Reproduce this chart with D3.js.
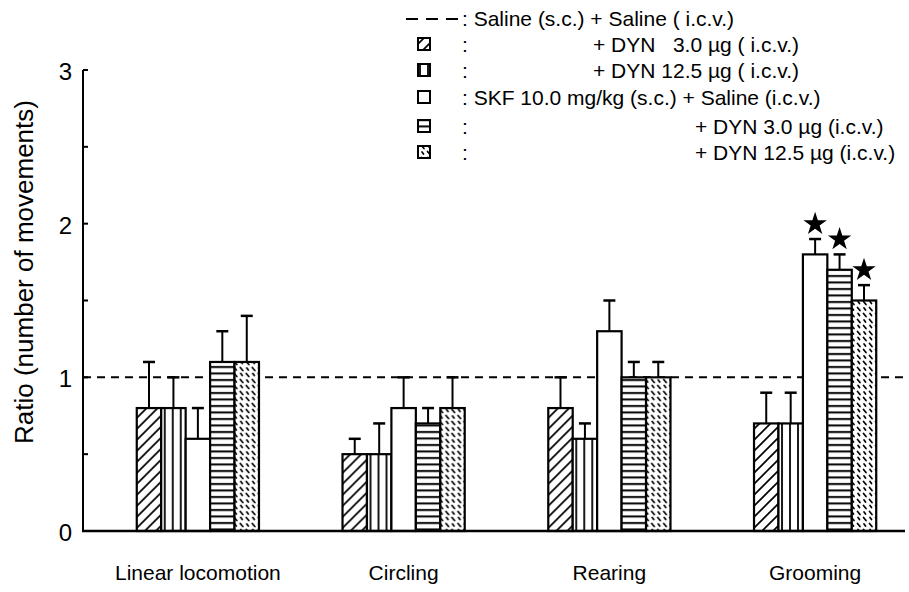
<!DOCTYPE html>
<html>
<head>
<meta charset="utf-8">
<script src="https://cdn.jsdelivr.net/npm/d3@7"></script>
<style>
  body { margin: 0; background: #fff; }
  svg { display: block; }
  text { font-family: "Liberation Sans", Arial, Helvetica, sans-serif; fill: #000; }
</style>
</head>
<body>
<svg id="chart"></svg>
<script>
// Behaviour ratios, SKF / DYN experiment

var categories = ["Linear locomotion", "Circling", "Rearing", "Grooming"];
var seriesKeys = ["salDyn3", "salDyn12", "skfSal", "skfDyn3", "skfDyn12"];

// mean ratio per category
var salDyn3 = [0.8, 0.5, 0.8, 0.7];
var salDyn12 = [0.8, 0.5, 0.6, 0.7];
var skfSal = [0.6, 0.8, 1.3, 1.8];
var skfDyn3 = [1.1, 0.7, 1.0, 1.7];
var skfDyn12 = [1.1, 0.8, 1.0, 1.5];

// upper error (s.e.m.)
var errDyn3 = [0.3, 0.1, 0.2, 0.2];
var errDyn12 = [0.2, 0.2, 0.1, 0.2];
var errSkfSal = [0.2, 0.2, 0.2, 0.1];
var errSkfDyn3 = [0.2, 0.1, 0.1, 0.1];
var errSkfDyn12 = [0.3, 0.2, 0.1, 0.1];

// significant (*) bars
var starred = [[3, "skfSal"], [3, "skfDyn3"], [3, "skfDyn12"]];

var yTicks = [0, 1, 2, 3];
var yMinorTicks = [0.5, 1.5, 2.5];
var controlLevel = 1;

var legendLabels = [
    ": Saline (s.c.) + Saline ( i.c.v.)",
    ":",
    ":",
    ": SKF 10.0 mg/kg (s.c.) + Saline (i.c.v.)",
    ":",
    ":"
];
var legendRight = [
    "",
    "+ DYN\u00a0\u00a0 3.0 \u00b5g ( i.c.v.)",
    "+ DYN 12.5 \u00b5g ( i.c.v.)",
    "",
    "+ DYN 3.0 \u00b5g (i.c.v.)",
    "+ DYN 12.5 \u00b5g (i.c.v.)"
];

var means = { salDyn3: salDyn3, salDyn12: salDyn12, skfSal: skfSal, skfDyn3: skfDyn3, skfDyn12: skfDyn12 };
var errs = { salDyn3: errDyn3, salDyn12: errDyn12, skfSal: errSkfSal, skfDyn3: errSkfDyn3, skfDyn12: errSkfDyn12 };
var fills = {
    salDyn3: "url(#hatch)",
    salDyn12: "url(#vert)",
    skfSal: "#fff",
    skfDyn3: "url(#horiz)",
    skfDyn12: "url(#dash)"
};

var width = 909, height = 592;
var svg = d3.select("#chart").attr("width", width).attr("height", height);

// patterns
var defs = svg.append("defs");
var p = defs.append("pattern").attr("id", "hatch").attr("patternUnits", "userSpaceOnUse")
    .attr("width", 11).attr("height", 11);
p.append("rect").attr("width", 11).attr("height", 11).attr("fill", "#fff");
p.append("path").attr("d", "M-3,14 L14,-3 M-3,3 L3,-3 M8,14 L14,8")
    .attr("stroke", "#000").attr("stroke-width", 1.7);

p = defs.append("pattern").attr("id", "vert").attr("patternUnits", "userSpaceOnUse")
    .attr("width", 8).attr("height", 8);
p.append("rect").attr("width", 8).attr("height", 8).attr("fill", "#fff");
p.append("line").attr("x1", 4).attr("x2", 4).attr("y1", 0).attr("y2", 8)
    .attr("stroke", "#000").attr("stroke-width", 1.8);

p = defs.append("pattern").attr("id", "horiz").attr("patternUnits", "userSpaceOnUse")
    .attr("width", 8).attr("height", 6.5);
p.append("rect").attr("width", 8).attr("height", 6.5).attr("fill", "#fff");
p.append("line").attr("x1", 0).attr("x2", 8).attr("y1", 3).attr("y2", 3)
    .attr("stroke", "#000").attr("stroke-width", 2);

p = defs.append("pattern").attr("id", "dash").attr("patternUnits", "userSpaceOnUse")
    .attr("width", 12).attr("height", 12);
p.append("rect").attr("width", 12).attr("height", 12).attr("fill", "#fff");
p.append("path").attr("d", "M1.5,1.5 L4,4.5 M7.5,7.5 L10,10.5 M8,1.5 L9.5,3.5 M2,8 L3.5,10")
    .attr("stroke", "#000").attr("stroke-width", 1.7).attr("stroke-linecap", "round");

// scales
var x0 = d3.scaleBand().domain(categories).range([95, 918])
    .paddingInner(0.406).paddingOuter(0.203);
var x1 = d3.scaleBand().domain(seriesKeys).range([0, x0.bandwidth()]);
var y = d3.scaleLinear().domain([0, 3]).range([531, 70]);
var axisX = 83, axisRight = 905;

// control level line
svg.append("line")
    .attr("x1", axisX).attr("x2", axisRight)
    .attr("y1", y(controlLevel)).attr("y2", y(controlLevel))
    .attr("stroke", "#000").attr("stroke-width", 2)
    .attr("stroke-dasharray", "8,6");

// bars
var groups = svg.selectAll("g.cat")
    .data(categories)
    .enter()
    .append("g")
    .attr("class", "cat")
    .attr("transform", function(d) {
        return "translate(" + x0(d) + ",0)";
    });

var bars = groups.selectAll("g.bar")
    .data(function(d, i) {
        return seriesKeys.map(function(k) {
            return { key: k, value: means[k][i], err: errs[k][i], cat: i };
        });
    })
    .enter()
    .append("g")
    .attr("class", "bar");

bars.append("line")
    .attr("x1", function(d) { return x1(d.key) + x1.bandwidth() / 2; })
    .attr("x2", function(d) { return x1(d.key) + x1.bandwidth() / 2; })
    .attr("y1", function(d) { return y(d.value); })
    .attr("y2", function(d) { return y(d.value + d.err); })
    .attr("stroke", "#000").attr("stroke-width", 2);
bars.append("line")
    .attr("x1", function(d) { return x1(d.key) + x1.bandwidth() / 2 - 6; })
    .attr("x2", function(d) { return x1(d.key) + x1.bandwidth() / 2 + 6; })
    .attr("y1", function(d) { return y(d.value + d.err); })
    .attr("y2", function(d) { return y(d.value + d.err); })
    .attr("stroke", "#000").attr("stroke-width", 2.5);

bars.append("rect")
    .attr("x", function(d) { return x1(d.key); })
    .attr("y", function(d) { return y(d.value); })
    .attr("width", x1.bandwidth())
    .attr("height", function(d) { return y(0) - y(d.value); })
    .attr("fill", function(d) { return fills[d.key]; })
    .attr("stroke", "#000").attr("stroke-width", 2.2);

// stars
svg.selectAll("path.star")
    .data(starred)
    .enter()
    .append("path")
    .attr("class", "star")
    .attr("d", d3.symbol().type(d3.symbolStar).size(170))
    .attr("transform", function(d) {
        var i = d[0], k = d[1];
        var cx = x0(categories[i]) + x1(k) + x1.bandwidth() / 2;
        return "translate(" + cx + "," + (y(means[k][i] + errs[k][i]) - 15) + ")";
    })
    .attr("fill", "#000");

// axes
svg.append("line")
    .attr("x1", axisX).attr("x2", axisX).attr("y1", y(3)).attr("y2", y(0))
    .attr("stroke", "#000").attr("stroke-width", 2);
svg.append("line")
    .attr("x1", axisX - 1).attr("x2", axisRight).attr("y1", y(0)).attr("y2", y(0))
    .attr("stroke", "#000").attr("stroke-width", 2.5);

svg.selectAll("line.tick")
    .data(yTicks.slice(1).concat(yMinorTicks))
    .enter()
    .append("line")
    .attr("class", "tick")
    .attr("x1", axisX).attr("x2", axisX + 5)
    .attr("y1", function(d) { return y(d); }).attr("y2", function(d) { return y(d); })
    .attr("stroke", "#000").attr("stroke-width", 2);

svg.selectAll("text.ytick")
    .data(yTicks)
    .enter()
    .append("text")
    .attr("class", "ytick")
    .attr("x", 72).attr("y", function(d) { return y(d) + 10; })
    .attr("text-anchor", "end")
    .style("font-size", "24px")
    .text(function(d) { return d; });

svg.append("text")
    .attr("transform", "translate(33,272) rotate(-90)")
    .attr("text-anchor", "middle")
    .style("font-size", "26px")
    .text("Ratio (number of movements)");

svg.selectAll("text.cat")
    .data(categories)
    .enter()
    .append("text")
    .attr("class", "cat")
    .attr("x", function(d) { return x0(d) + x0.bandwidth() / 2; })
    .attr("y", 580)
    .attr("text-anchor", "middle")
    .style("font-size", "21px")
    .text(function(d) { return d; });

// legend
var legendRows = [26, 52, 78, 105, 134, 160];
var legendKeys = ["salDyn3", "salDyn12", "skfSal", "skfDyn3", "skfDyn12"];
var leg = svg.append("g").attr("class", "legend");

leg.append("line")
    .attr("x1", 406).attr("x2", 458).attr("y1", legendRows[0] - 7).attr("y2", legendRows[0] - 7)
    .attr("stroke", "#000").attr("stroke-width", 2).attr("stroke-dasharray", "12,8");

leg.selectAll("rect")
    .data(legendKeys)
    .enter()
    .append("rect")
    .attr("x", 418)
    .attr("y", function(d, i) { return legendRows[i + 1] - 14; })
    .attr("width", 12).attr("height", 12)
    .attr("fill", function(d) { return fills[d]; })
    .attr("stroke", "#000").attr("stroke-width", 2);

leg.selectAll("text.l")
    .data(legendLabels)
    .enter()
    .append("text")
    .attr("class", "l")
    .attr("x", 462)
    .attr("y", function(d, i) { return legendRows[i]; })
    .style("font-size", "21px")
    .text(function(d) { return d; });

leg.selectAll("text.r")
    .data(legendRight)
    .enter()
    .append("text")
    .attr("class", "r")
    .attr("x", function(d, i) { return i < 3 ? 593 : 695; })
    .attr("y", function(d, i) { return legendRows[i]; })
    .style("font-size", "21px")
    .text(function(d) { return d; });
</script>
</body>
</html>
